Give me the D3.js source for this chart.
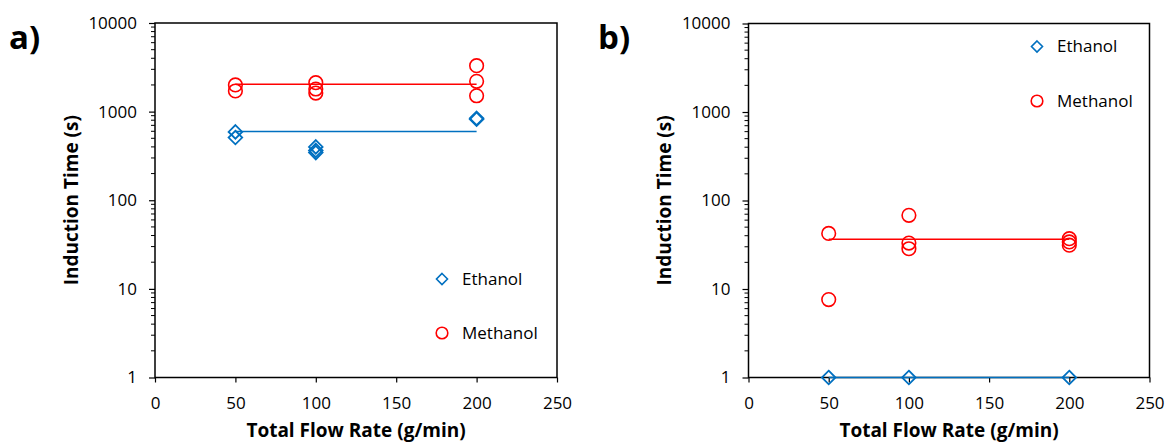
<!DOCTYPE html>
<html><head><meta charset="utf-8">
<script src="https://cdn.jsdelivr.net/npm/d3@7"></script>
<style>body{margin:0;background:#fff}svg{display:block}text{font-family:"Open Sans","Noto Sans",sans-serif}</style>
</head><body>
<svg id="c" width="1165" height="443"></svg>
<script>
// ---- data ----
const xTicks = [0, 50, 100, 150, 200, 250];
const yTicks = [1, 10, 100, 1000, 10000];
const seriesNames = ["Ethanol", "Methanol"];
// panel a
const aEthanolX = [50, 50, 100, 100, 100, 200, 200];
const aEthanolY = [590, 510, 400, 365, 345, 840, 820];
const aMethanolX = [50, 50, 100, 100, 100, 200, 200, 200];
const aMethanolY = [2000, 1710, 2120, 1800, 1620, 3300, 2200, 1510];
const aEthanolMean = 595;
const aMethanolMean = 2040;
// panel b
const bEthanolX = [50, 100, 200];
const bEthanolY = [1, 1, 1];
const bMethanolX = [50, 50, 100, 100, 100, 200, 200, 200];
const bMethanolY = [42.5, 7.6, 68, 33, 28.5, 37, 34, 31.3];
const bEthanolMean = 1;
const bMethanolMean = 36.6;
const lineX = [50, 200];

const svg = d3.select("#c");
const BLUE = "#0070C0", RED = "#FF0000";

function diamond(sel, cx, cy, r, sw) {
  sel.append("path")
    .attr("d", `M${cx},${cy - r}L${cx + r},${cy}L${cx},${cy + r}L${cx - r},${cy}Z`)
    .attr("fill", "none").attr("stroke", BLUE).attr("stroke-width", sw);
}

function panel(cfg) {
  const x = d3.scaleLinear().domain([0, 250]).range([cfg.x0, cfg.x1]);
  const y = d3.scaleLog().domain([1, 10000]).range([cfg.y1, cfg.y0]);
  const g = svg.append("g");

  // minor ticks (log)
  const minor = [];
  for (let k = 0; k < 4; k++) for (let m = 2; m <= 9; m++) minor.push(m * Math.pow(10, k));
  g.selectAll(".mn").data(minor).join("line")
    .attr("x1", cfg.x0 - 4).attr("x2", cfg.x0)
    .attr("y1", d => y(d)).attr("y2", d => y(d))
    .attr("stroke", "#000").attr("stroke-width", 1);

  // y axis
  const yAxis = d3.axisLeft(y).tickValues(yTicks).tickFormat(d3.format("d")).tickSize(6).tickPadding(12);
  const ya = g.append("g").attr("transform", `translate(${cfg.x0},0)`).call(yAxis);
  ya.select(".domain").remove();
  ya.selectAll("text").attr("font-size", 17).attr("fill", "#000");
  ya.selectAll("line").attr("stroke-width", 1.2);

  // x axis
  const xAxis = d3.axisBottom(x).tickValues(xTicks).tickSize(5).tickPadding(14);
  const xa = g.append("g").attr("transform", `translate(0,${cfg.y1})`).call(xAxis);
  xa.select(".domain").remove();
  xa.selectAll("text").attr("font-size", 17).attr("fill", "#000");
  xa.selectAll("line").attr("stroke-width", 1.2);

  // box
  g.append("rect").attr("x", cfg.x0).attr("y", cfg.y0)
    .attr("width", cfg.x1 - cfg.x0).attr("height", cfg.y1 - cfg.y0)
    .attr("fill", "none").attr("stroke", "#000").attr("stroke-width", 1.5);

  // mean lines
  const line = d3.line().x(d => x(d[0])).y(d => y(d[1]));
  g.append("path").datum(lineX.map(v => [v, cfg.mMean])).attr("d", line)
    .attr("stroke", RED).attr("stroke-width", 1.5).attr("fill", "none");
  g.append("path").datum(lineX.map(v => [v, cfg.eMean])).attr("d", line)
    .attr("stroke", BLUE).attr("stroke-width", 1.5).attr("fill", "none");

  // methanol circles
  cfg.mX.forEach((xv, i) => {
    g.append("circle").attr("cx", x(xv)).attr("cy", y(cfg.mY[i])).attr("r", 6.8)
      .attr("fill", "none").attr("stroke", RED).attr("stroke-width", 1.6);
  });
  // ethanol diamonds
  cfg.eX.forEach((xv, i) => diamond(g, x(xv), y(cfg.eY[i]), 6.8, 1.8));

  // legend
  diamond(g, cfg.legX, cfg.legY1, 5.5, 1.6);
  g.append("text").attr("x", cfg.legX + 20).attr("y", cfg.legY1).attr("dy", "0.35em")
    .attr("font-size", 17).text(seriesNames[0]);
  g.append("circle").attr("cx", cfg.legX).attr("cy", cfg.legY2).attr("r", 5.8)
    .attr("fill", "none").attr("stroke", RED).attr("stroke-width", 1.6);
  g.append("text").attr("x", cfg.legX + 20).attr("y", cfg.legY2).attr("dy", "0.35em")
    .attr("font-size", 17).text(seriesNames[1]);

  // axis titles
  g.append("text").attr("x", (cfg.x0 + cfg.x1) / 2).attr("y", 437).attr("text-anchor", "middle")
    .attr("font-size", 19).attr("font-weight", "bold").text("Total Flow Rate (g/min)");
  g.append("text").attr("transform", `translate(${cfg.yTitleX},${(cfg.y0 + cfg.y1) / 2}) rotate(-90)`)
    .attr("text-anchor", "middle").attr("font-size", 19).attr("font-weight", "bold")
    .text("Induction Time (s)");
  // panel label
  g.append("text").attr("x", cfg.labX).attr("y", 49).attr("font-size", 33)
    .attr("font-weight", "bold").text(cfg.label);
}

panel({x0: 155, x1: 557, y0: 23, y1: 377.5, eX: aEthanolX, eY: aEthanolY, mX: aMethanolX, mY: aMethanolY,
  eMean: aEthanolMean, mMean: aMethanolMean, legX: 442, legY1: 279, legY2: 333, yTitleX: 78, labX: 9, label: "a)"});
panel({x0: 748.5, x1: 1149.5, y0: 23.5, y1: 377.5, eX: bEthanolX, eY: bEthanolY, mX: bMethanolX, mY: bMethanolY,
  eMean: bEthanolMean, mMean: bMethanolMean, legX: 1037, legY1: 46.5, legY2: 101, yTitleX: 671, labX: 598, label: "b)"});
</script>
</body></html>
